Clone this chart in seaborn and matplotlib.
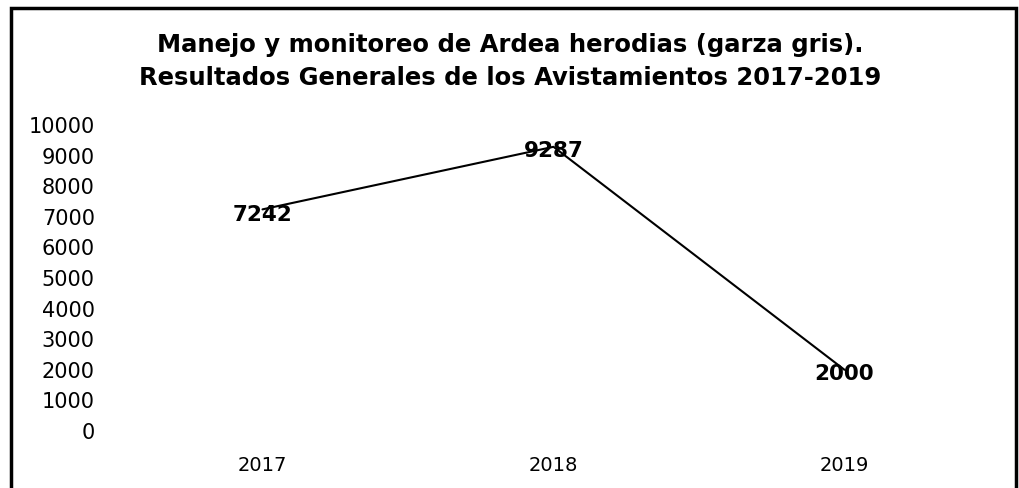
import matplotlib
matplotlib.use("Agg")
import matplotlib.pyplot as plt
import seaborn as sns
import pandas as pd
from matplotlib.patches import Rectangle

years = ["2017", "2018", "2019"]
avistamientos = [7242, 9287, 2000]
yticks = [0, 1000, 2000, 3000, 4000, 5000, 6000, 7000, 8000, 9000, 10000]
title = ("Manejo y monitoreo de Ardea herodias (garza gris).\n"
         "Resultados Generales de los Avistamientos 2017-2019")

sns.set_theme(style="white")
plt.rcParams["font.family"] = ["DejaVu Sans"]
plt.rcParams["text.color"] = "black"
plt.rcParams["xtick.color"] = "black"
plt.rcParams["ytick.color"] = "black"

df = pd.DataFrame({"year": years, "value": avistamientos})

fig = plt.figure(figsize=(10.2, 4.88), dpi=100)
ax = fig.add_axes([0.1147, 0.1168, 0.8559, 0.6271])
sns.lineplot(data=df, x="year", y="value", ax=ax, color="black", linewidth=1.5,
             sort=False, marker=None)
ax.set_xlim(-0.5, 2.5)
ax.set_ylim(0, 10000)
ax.set_yticks(yticks)
ax.set_yticklabels([str(v) for v in yticks], fontsize=15, color="black")
ax.tick_params(axis="x", labelsize=14, length=0, pad=18, labelcolor="black")
ax.tick_params(axis="y", length=0, pad=16, labelcolor="black")
ax.set_xlabel("")
ax.set_ylabel("")
for s in ax.spines.values():
    s.set_visible(False)
ax.grid(False)

offsets = [-200, -150, -150]
for i, v in enumerate(avistamientos):
    ax.text(i, v + offsets[i], str(v), ha="center", va="center", fontsize=15.5,
            fontweight="bold", color="black")

fig.text(0.5, 0.874, title, ha="center", va="center", fontsize=17.5,
         fontweight="bold", linespacing=1.45, color="black")

border = Rectangle((0.0108, -0.05), 0.9853, 1.0336, transform=fig.transFigure,
                   fill=False, edgecolor="black", linewidth=2.5)
fig.add_artist(border)

fig.savefig("out.png", dpi=100, facecolor="white")
